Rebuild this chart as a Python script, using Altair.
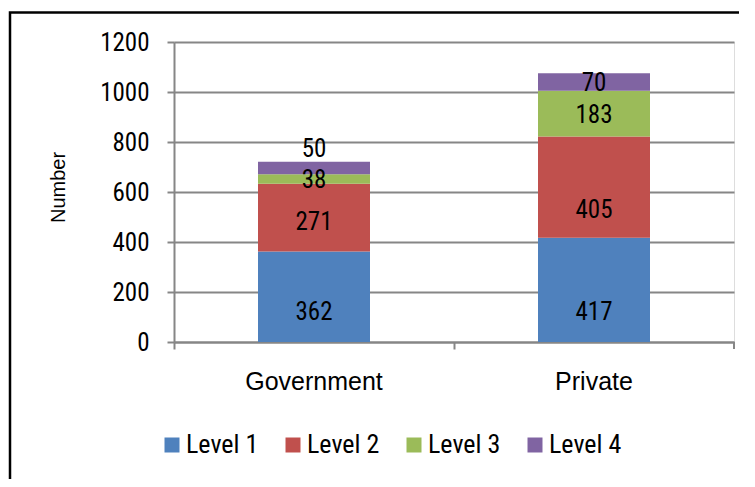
import altair as alt
import pandas as pd

schools = ["Government", "Private"]
levels = ["Level 1", "Level 2", "Level 3", "Level 4"]
government = [362, 271, 38, 50]
private = [417, 405, 183, 70]
colors = ["#4F81BD", "#C0504D", "#9BBB59", "#8064A2"]
# pixel nudges (downwards) of the value labels, as placed in the original chart
label_dy_government = [15, 4, 1, -19]
label_dy_private = [22, 23, 1, 1]

rows = []
for s, vals, dys in zip(schools, [government, private], [label_dy_government, label_dy_private]):
    for i, (lv, v, d) in enumerate(zip(levels, vals, dys)):
        rows.append({"School": s, "Level": lv, "Number": v, "ord": i, "dy": d})
df = pd.DataFrame(rows)

FONT = "Liberation Sans"
COND = "Roboto Condensed"
W, H = 560, 300
YMAX = 1200
UNITS_PER_PX = YMAX / H

base = alt.Chart(df)

x_enc = alt.X("School:N", sort=schools,
              scale=alt.Scale(paddingInner=0, paddingOuter=0),
              axis=alt.Axis(title=None, bandPosition=0, labelAngle=0,
                            labelFont=FONT, labelFontSize=25, labelColor="black",
                            labelPadding=20, tickSize=7, tickColor="#868686",
                            tickWidth=2, domainColor="#868686", domainWidth=2,
                            grid=False))

bars = base.mark_bar(size=112).encode(
    x=x_enc,
    y=alt.Y("sum(Number):Q", stack="zero",
            scale=alt.Scale(domain=[0, YMAX]),
            axis=alt.Axis(title="Number", values=list(range(0, YMAX + 1, 200)), format="d",
                          labelFont=COND, labelFontSize=25, labelColor="black",
                          labelPadding=18, tickSize=7, tickColor="#868686",
                          tickWidth=2, domainColor="#868686", domainWidth=2,
                          gridColor="#868686", gridWidth=2,
                          titleFont=FONT, titleFontSize=20, titleFontWeight="normal",
                          titleColor="black", titleX=-116, titleY=145,
                          titleBaseline="middle")),
    color=alt.Color("Level:N", sort=levels,
                    scale=alt.Scale(domain=levels, range=colors),
                    legend=alt.Legend(title=None, orient="none", direction="horizontal",
                                      legendX=-15, legendY=390,
                                      symbolType="square", symbolSize=225,
                                      symbolStrokeWidth=0, symbolOffset=0,
                                      labelFont=COND, labelFontSize=26, labelColor="black",
                                      labelOffset=1, columnPadding=21)),
    order=alt.Order("ord:Q"),
)

labels = base.transform_stack(
    stack="Number", groupby=["School"], as_=["lo", "hi"],
    sort=[alt.SortField("ord", order="ascending")]
).transform_calculate(
    ylab=f"(datum.lo + datum.hi) / 2 - datum.dy * {UNITS_PER_PX}"
).mark_text(
    font=COND, fontSize=25, color="black", baseline="middle"
).encode(
    x=alt.X("School:N", sort=schools),
    y=alt.Y("ylab:Q"),
    text="Number:Q",
)

one = alt.Chart(pd.DataFrame({"a": [0]}))
end_tick = one.mark_rule(color="#868686", strokeWidth=2).encode(
    x=alt.value(W), y=alt.value(H), y2=alt.value(H + 7))
border = one.mark_rect(filled=False, stroke="black", strokeWidth=2.5).encode(
    x=alt.value(-164), x2=alt.value(800), y=alt.value(-29.5), y2=alt.value(700))

chart = alt.layer(bars, labels, end_tick, border).properties(
    width=W, height=H,
    autosize=alt.AutoSizeParams(type="none"),
    padding={"left": 166, "top": 34, "right": 5, "bottom": 137},
).configure_view(stroke=None).configure(background="white")

chart.save("out.html", embed_options={"renderer": "svg", "actions": False})
